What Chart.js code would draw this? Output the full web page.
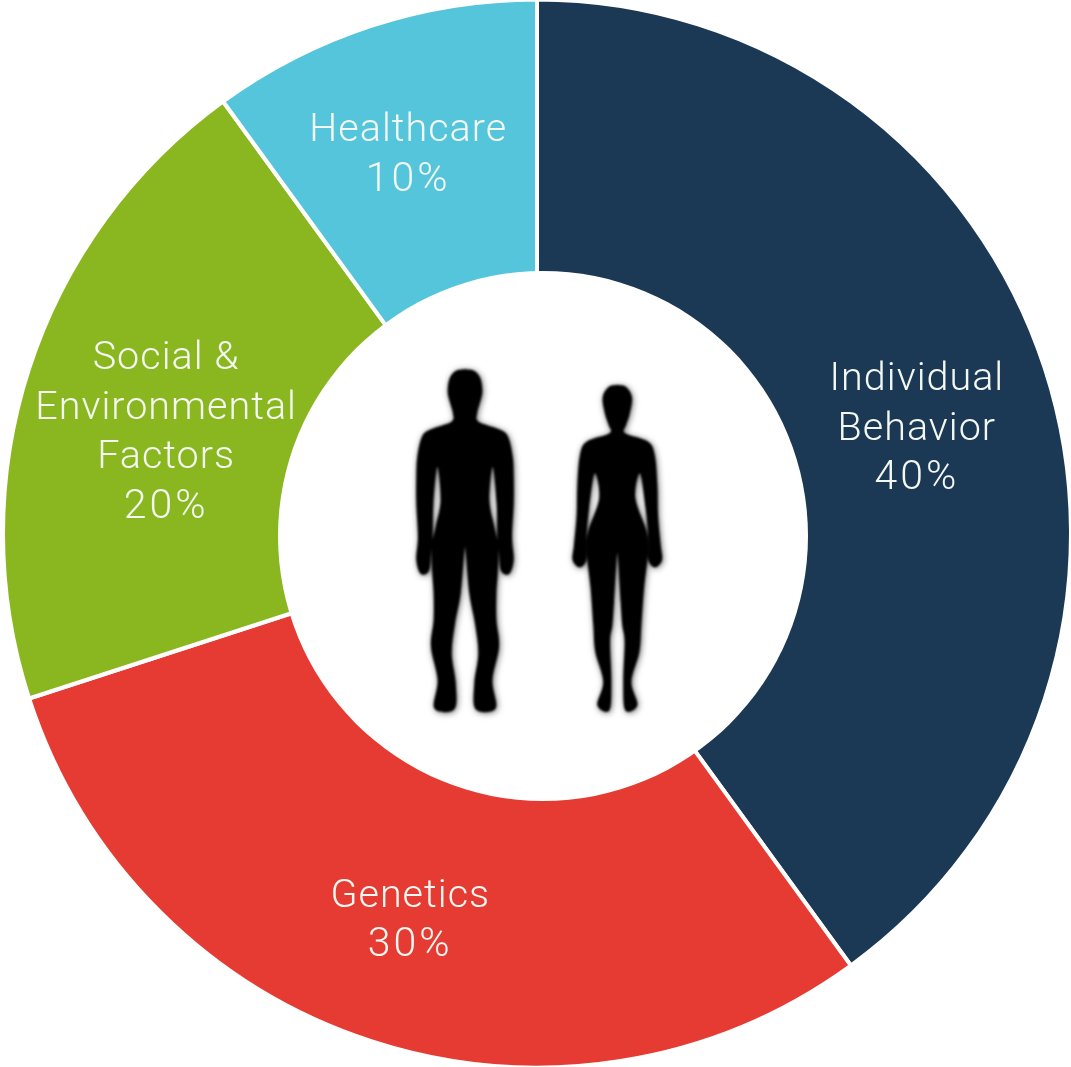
<!DOCTYPE html>
<html>
<head>
<meta charset="utf-8">
<style>
html,body{margin:0;padding:0;background:#fff;overflow:hidden}
#wrap{position:absolute;left:0;top:0;width:1071px;height:1067px}
</style>
<script src="https://cdn.jsdelivr.net/npm/chart.js@4"></script>
</head>
<body>
<div id="wrap"><canvas id="c"></canvas></div>
<script>
const categories = ["Individual Behavior", "Genetics", "Social & Environmental Factors", "Healthcare"];
const values = [40, 30, 20, 10];
const labelLines = [["Individual", "Behavior", "40%"], ["Genetics", "30%"], ["Social &", "Environmental", "Factors", "20%"], ["Healthcare", "10%"]];
const colors = ["#1B3855", "#E63B32", "#8AB71F", "#55C5DC"];
const labelNudge = [[-1, 20], [-3, 7], [10, 24], [-5, 3]];

const manProfile = [[0,28],[28,33],[46,55],[52,95],[44,130],[36,160],[40,185],[100,207],[128,228],[143,290],[146,350],[146,430],[141,530],[146,600],[132,642],[108,632],[102,580],[97,530],[95,430],[83,320],[73,420],[88,500],[100,560],[98,640],[94,700],[94,780],[102,860],[82,960],[92,1045],[32,1048],[28,970],[40,880],[30,790],[13,700],[2,575]];
const womanProfile = [[0,30],[26,36],[44,68],[36,120],[26,150],[23,175],[92,200],[112,240],[120,330],[122,420],[130,510],[134,555],[113,577],[93,555],[93,495],[85,400],[68,295],[54,370],[88,470],[92,530],[80,640],[72,750],[66,830],[42,920],[60,990],[24,1006],[18,920],[22,800],[15,750],[10,680],[2,550]];

function figure(ctx, profile, cx, ox, oy) {
  const pts = profile.map(p => [(cx + p[0]) / 3 + ox, p[1] / 3 + oy])
    .concat(profile.slice().reverse().map(p => [(cx - p[0]) / 3 + ox, p[1] / 3 + oy]));
  const n = pts.length;
  ctx.beginPath();
  ctx.moveTo(pts[0][0], pts[0][1]);
  for (let i = 0; i < n; i++) {
    const p0 = pts[(i - 1 + n) % n], p1 = pts[i], p2 = pts[(i + 1) % n], p3 = pts[(i + 2) % n];
    ctx.bezierCurveTo(
      p1[0] + (p2[0] - p0[0]) / 6, p1[1] + (p2[1] - p0[1]) / 6,
      p2[0] - (p3[0] - p1[0]) / 6, p2[1] - (p3[1] - p1[1]) / 6,
      p2[0], p2[1]);
  }
  ctx.closePath();
  ctx.fill();
}

const centerArt = {
  id: "centerArt",
  afterDatasetsDraw(chart) {
    const ctx = chart.ctx;
    ctx.save();
    ctx.fillStyle = "#fff";
    ctx.beginPath();
    ctx.arc(543, 536, 265, 0, Math.PI * 2);
    ctx.fill();
    ctx.fillStyle = "#000";
    ctx.filter = "blur(0.8px)";
    ctx.shadowColor = "rgba(0,0,0,0.6)";
    ctx.shadowBlur = 6;
    ctx.shadowOffsetX = 1;
    ctx.shadowOffsetY = 1;
    figure(ctx, manProfile, 195, 400, 360);
    figure(ctx, womanProfile, 172, 560, 375);
    ctx.restore();
  }
};

const sliceLabels = {
  id: "sliceLabels",
  afterDraw(chart) {
    const ctx = chart.ctx;
    const arcs = chart.getDatasetMeta(0).data;
    ctx.save();
    ctx.fillStyle = "#F4F8F2";
    ctx.textAlign = "center";
    ctx.textBaseline = "middle";
    arcs.forEach((arc, i) => {
      const p = arc.getProps(["x", "y", "startAngle", "endAngle", "outerRadius"]);
      const mid = (p.startAngle + p.endAngle) / 2;
      const r = p.outerRadius * 0.75;
      const x = p.x + Math.cos(mid) * r + labelNudge[i][0];
      const y = p.y + Math.sin(mid) * r + labelNudge[i][1];
      const lines = labelLines[i];
      lines.forEach((t, k) => {
        const pct = t.endsWith("%");
        ctx.font = pct ? "300 41px Roboto" : "300 39.5px Roboto";
        ctx.letterSpacing = pct ? "3px" : "1px";
        ctx.fillText(t, x, y + (k - (lines.length - 1) / 2) * 49.5);
      });
    });
    ctx.restore();
  }
};

new Chart(document.getElementById("c"), {
  type: "doughnut",
  data: {
    labels: categories,
    datasets: [{
      data: values,
      backgroundColor: colors,
      borderColor: "#fff",
      borderWidth: 4,
      hoverOffset: 0,
      radius: 534,
      cutout: 240
    }]
  },
  options: {
    responsive: true,
    maintainAspectRatio: false,
    animation: false,
    layout: { padding: { left: 3 } },
    plugins: { legend: { display: false }, tooltip: { enabled: false } }
  },
  plugins: [centerArt, sliceLabels]
});
</script>
</body>
</html>
